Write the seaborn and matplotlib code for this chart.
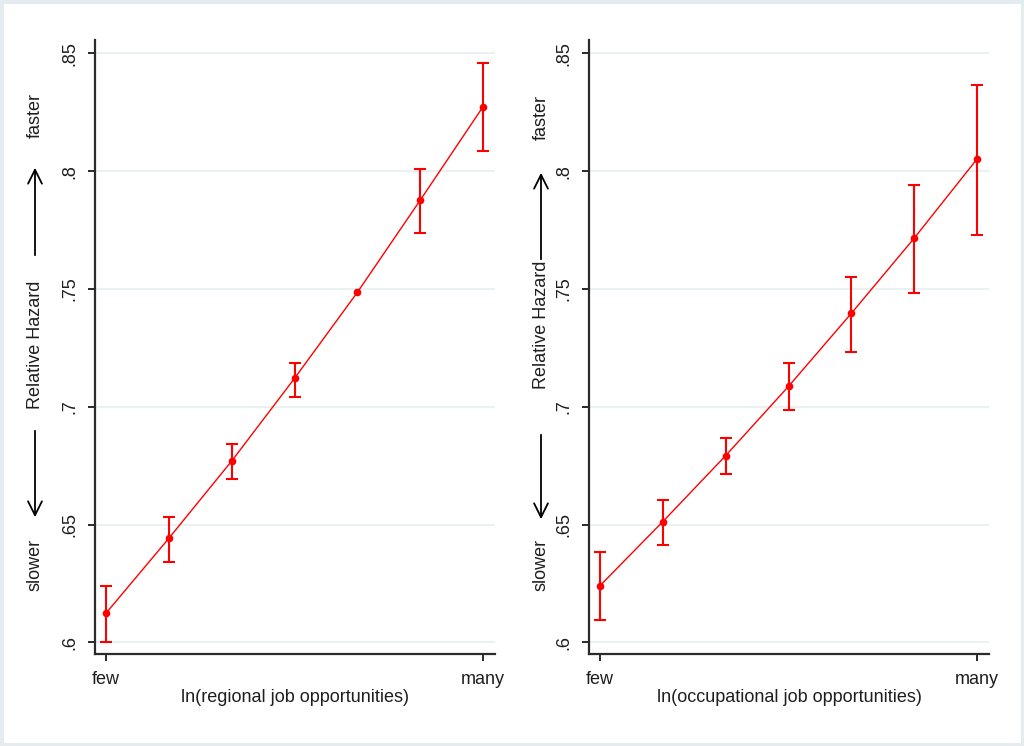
import matplotlib
matplotlib.use('Agg')
import matplotlib.pyplot as plt
from matplotlib.patches import Rectangle, FancyArrowPatch
import numpy as np
import pandas as pd
import seaborn as sns

# data (relative hazard with CI)
steps = [0, 1, 2, 3, 4, 5, 6]
x_ticks = [0, 6]
x_labels = ['few', 'many']
y_ticks = [0.6, 0.65, 0.7, 0.75, 0.8, 0.85]
y_labels = ['.6', '.65', '.7', '.75', '.8', '.85']

regional_hr = [0.6124, 0.6442, 0.6770, 0.7121, 0.7486, 0.7877, 0.8274]
regional_lo = [0.6001, 0.6343, 0.6694, 0.7043, 0.7486, 0.7737, 0.8086]
regional_hi = [0.6239, 0.6534, 0.6844, 0.7186, 0.7486, 0.8009, 0.8461]

occupational_hr = [0.6241, 0.6513, 0.6793, 0.7087, 0.7397, 0.7716, 0.8052]
occupational_lo = [0.6096, 0.6414, 0.6716, 0.6987, 0.7234, 0.7482, 0.7730]
occupational_hi = [0.6384, 0.6604, 0.6867, 0.7186, 0.7553, 0.7942, 0.8367]

sns.set_theme(style='white')
plt.rcParams['font.family'] = ['Liberation Sans', 'DejaVu Sans']
fs = 13

W, H = 1024, 746
def fx(px): return px / W
def fy(py): return 1 - py / H

fig = plt.figure(figsize=(10.24, 7.46), dpi=100)
fig.patch.set_facecolor('white')
fig.add_artist(Rectangle((0, 0), 1, 1, transform=fig.transFigure, fill=False,
                         edgecolor='#e4ecef', lw=5))

panels = [
    (95, regional_hr, regional_lo, regional_hi, 'ln(regional job opportunities)'),
    (589, occupational_hr, occupational_lo, occupational_hi, 'ln(occupational job opportunities)'),
]

for left_px, hr, lo, hi, xlab in panels:
    ax = fig.add_axes([fx(left_px), 92 / H, 400 / W, 614 / H])
    df = pd.DataFrame({'step': steps, 'hr': hr, 'lo': lo, 'hi': hi})
    ci = df[df['hi'] - df['lo'] > 0.0005]  # skip CIs too narrow to show
    ax.errorbar(ci['step'], ci['hr'], yerr=[ci['hr'] - ci['lo'], ci['hi'] - ci['hr']],
                fmt='none', ecolor='#ff0000', elinewidth=1.5, capsize=4, capthick=1.5, zorder=3)
    sns.lineplot(data=df, x='step', y='hr', ax=ax, color='#ff0000', linewidth=1,
                 marker='o', markersize=5.5, markeredgewidth=0, zorder=4)
    ax.set_xlim(-0.175, 6.19)
    ax.set_ylim(0.5951, 0.8557)
    ax.set_xticks(x_ticks)
    ax.set_xticklabels(x_labels, fontsize=fs)
    ax.set_yticks(y_ticks)
    ax.set_yticklabels(y_labels, rotation=90, va='center', fontsize=fs)
    ax.yaxis.grid(True, color='#e6eff1', lw=1.2)
    ax.xaxis.grid(False)
    sns.despine(ax=ax)
    for s in ['left', 'bottom']:
        ax.spines[s].set_color('#2b2b2b')
        ax.spines[s].set_linewidth(1.6)
    ax.tick_params(axis='both', direction='out', length=5, width=1.4, color='#2b2b2b',
                   labelcolor='#1e1e1e', bottom=True, left=True)
    ax.tick_params(axis='x', pad=7)
    ax.tick_params(axis='y', pad=7)
    ax.set_xlabel(xlab, color='#1e1e1e', fontsize=fs, labelpad=1)
    ax.set_ylabel('')

# y-axis titles with arrows (slower <- Relative Hazard -> faster)
ylabel_layout = [
    (35, 115, 345, 565, (258, 165), (428, 520)),
    (541, 117, 325, 565, (262, 170), (432, 522)),
]
for xp, y_fast, y_rel, y_slow, up, down in ylabel_layout:
    for yp, txt in [(y_fast, 'faster'), (y_rel, 'Relative Hazard'), (y_slow, 'slower')]:
        fig.text(fx(xp), fy(yp), txt, rotation=90, ha='center', va='center',
                 color='#1e1e1e', fontsize=fs)
    for tail, tip in [up, down]:
        fig.add_artist(FancyArrowPatch(
            (fx(xp), fy(tail)), (fx(xp), fy(tip)), transform=fig.transFigure,
            arrowstyle='->', mutation_scale=25, lw=1.3, color='black'))

fig.savefig('out.png', dpi=100)
